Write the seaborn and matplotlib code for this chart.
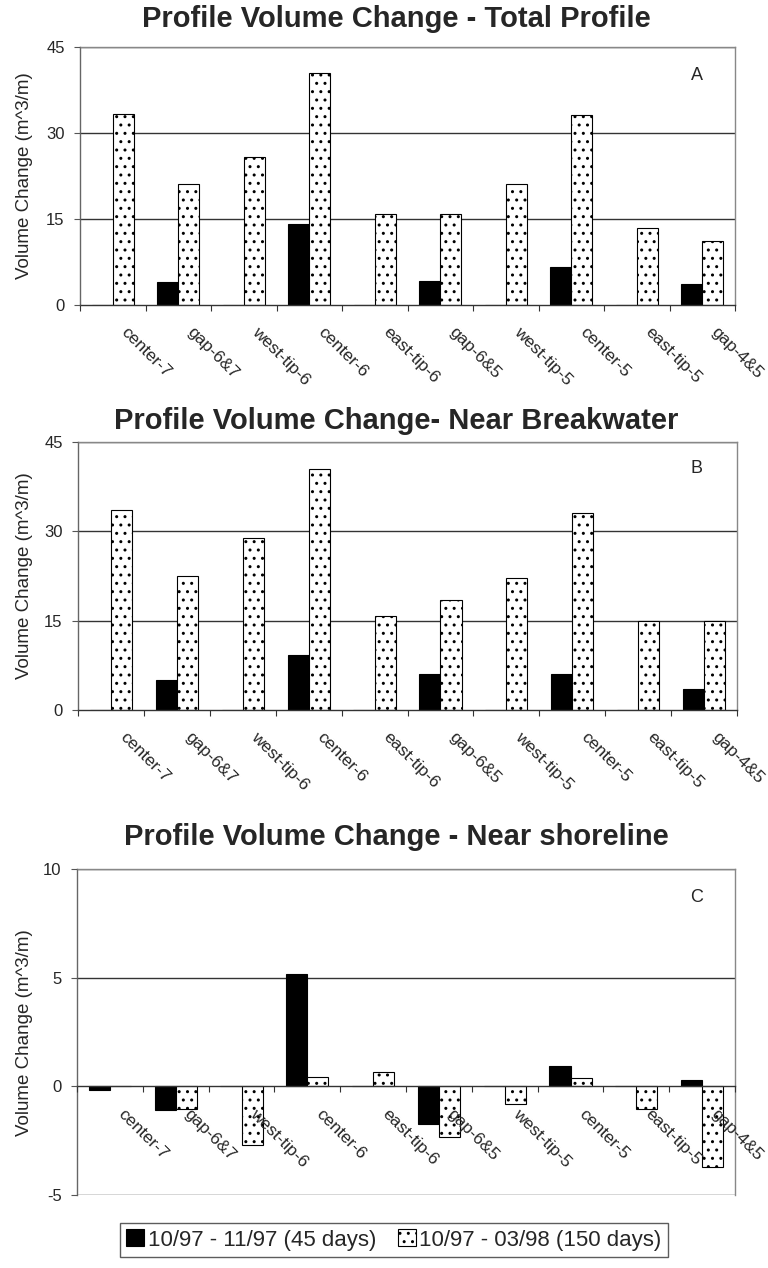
import numpy as np
import pandas as pd
import matplotlib
matplotlib.use("Agg")
import matplotlib.pyplot as plt
from matplotlib.patches import Patch
from matplotlib.transforms import ScaledTranslation
import seaborn as sns

# Profile sites along the breakwater system
sites = ["center-7", "gap-6&7", "west-tip-6", "center-6", "east-tip-6",
         "gap-6&5", "west-tip-5", "center-5", "east-tip-5", "gap-4&5"]
periods = ["10/97 - 11/97 (45 days)", "10/97 - 03/98 (150 days)"]

# Volume change (m^3/m), total profile
total_45 = [0.0, 4.0, 0.0, 14.1, 0.0, 4.1, 0.0, 6.7, 0.0, 3.7]
total_150 = [33.3, 21.0, 25.8, 40.5, 15.9, 15.8, 21.0, 33.1, 13.4, 11.2]
# Near breakwater
bw_45 = [0.0, 5.1, 0.0, 9.2, 0.0, 6.0, 0.0, 6.0, 0.0, 3.6]
bw_150 = [33.6, 22.5, 28.8, 40.5, 15.7, 18.5, 22.2, 33.1, 14.9, 15.0]
# Near shoreline
sh_45 = [-0.15, -1.1, 0.0, 5.2, 0.0, -1.75, 0.0, 0.96, 0.0, 0.31]
sh_150 = [0.0, -1.05, -2.7, 0.42, 0.65, -2.34, -0.82, 0.39, -1.02, -3.73]

titles = ["Profile Volume Change - Total Profile",
          "Profile Volume Change- Near Breakwater",
          "Profile Volume Change - Near shoreline"]
panel_tags = ["A", "B", "C"]
y_ticks = [[0, 15, 30, 45], [0, 15, 30, 45], [-5, 0, 5, 10]]


def long_frame(v45, v150):
    return pd.DataFrame({
        "site": sites * 2,
        "period": [periods[0]] * len(sites) + [periods[1]] * len(sites),
        "value": list(v45) + list(v150),
    })


frames = [long_frame(total_45, total_150),
          long_frame(bw_45, bw_150),
          long_frame(sh_45, sh_150)]

sns.set_theme(style="white")
plt.rcParams["font.family"] = ["Liberation Sans", "DejaVu Sans"]
plt.rcParams["hatch.linewidth"] = 1.0

fig = plt.figure(figsize=(7.68, 12.68), dpi=100)
W, H = 768.0, 1268.0

# axes boxes in pixel units: left, top, right, bottom
boxes = [(80, 46.7, 735, 305), (78, 441.7, 737, 710), (77, 869.3, 735, 1195)]
title_y = [19, 421, 837]
tag_y = [75, 469, 897]

for k in range(3):
    l, t, r, b = boxes[k]
    ax = fig.add_axes([l / W, 1 - b / H, (r - l) / W, (b - t) / H])
    sns.barplot(data=frames[k], x="site", y="value", hue="period",
                order=sites, hue_order=periods,
                palette=["black", "white"], width=0.64,
                edgecolor="black", linewidth=0.8, legend=False, ax=ax)
    for bar in ax.containers[1]:
        bar.set_hatch("..")

    lo, hi = y_ticks[k][0], y_ticks[k][-1]
    ax.set_ylim(lo, hi)
    ax.set_xlim(-0.5, len(sites) - 0.5)
    ax.set_yticks(y_ticks[k])
    ax.set_yticklabels([str(v) for v in y_ticks[k]], fontsize=12)
    # value gridlines sit behind the bars; axis text sits above them
    for v in y_ticks[k]:
        if v != 0:
            ax.axhline(v, color="#333333", linewidth=1.0, zorder=0.5)
    ax.set_axisbelow(False)
    ax.tick_params(axis="y", length=4, width=0.8, color="#555555", pad=7,
                   left=True)

    for side in ["top", "right"]:
        ax.spines[side].set_color("#888888")
        ax.spines[side].set_linewidth(1.0)
    ax.spines["left"].set_color("#666666")
    ax.spines["left"].set_linewidth(1.0)
    ax.spines["bottom"].set_color("#333333")
    ax.spines["bottom"].set_linewidth(1.0)
    if lo < 0:
        ax.spines["bottom"].set_position(("data", 0))

    # category labels at centres, tick marks at category boundaries
    ax.set_xticks(np.arange(len(sites)))
    ax.set_xticklabels(sites, fontsize=12.5, rotation=-45, ha="left",
                       va="center", rotation_mode="anchor")
    ax.tick_params(axis="x", which="major", length=0, pad=18)
    ax.set_xticks(np.arange(len(sites) + 1) - 0.5, minor=True)
    ax.tick_params(axis="x", which="minor", length=4, width=0.8,
                   color="#333333", direction="out", bottom=True)
    for lab in ax.get_xticklabels():
        lab.set_transform(lab.get_transform() +
                          ScaledTranslation(11 / 100, 0, fig.dpi_scale_trans))

    ax.set_xlabel("")
    ax.set_ylabel("Volume Change (m^3/m)", fontsize=13.5)
    ax.yaxis.set_label_coords(-(l - 33) / (r - l), 0.5)

    fig.text(697 / W, 1 - tag_y[k] / H, panel_tags[k], fontsize=13,
             ha="center", va="center")
    fig.text(396 / W, 1 - title_y[k] / H, titles[k], fontsize=21,
             fontweight="bold", ha="center", va="center")

handles = [Patch(facecolor="black", edgecolor="black", linewidth=0.8),
           Patch(facecolor="white", edgecolor="black", linewidth=0.8,
                 hatch="..")]
leg = fig.legend(handles, periods, loc="center",
                 bbox_to_anchor=(394 / W, 1 - 1240 / H), ncol=2,
                 fontsize=16, frameon=True, fancybox=False, shadow=False,
                 handlelength=0.8, handleheight=0.8, handletextpad=0.15,
                 columnspacing=1.0, borderpad=0.3, borderaxespad=0)
leg.get_frame().set_edgecolor("#333333")
leg.get_frame().set_linewidth(1.0)

fig.savefig("out.png", dpi=100, facecolor="white")
